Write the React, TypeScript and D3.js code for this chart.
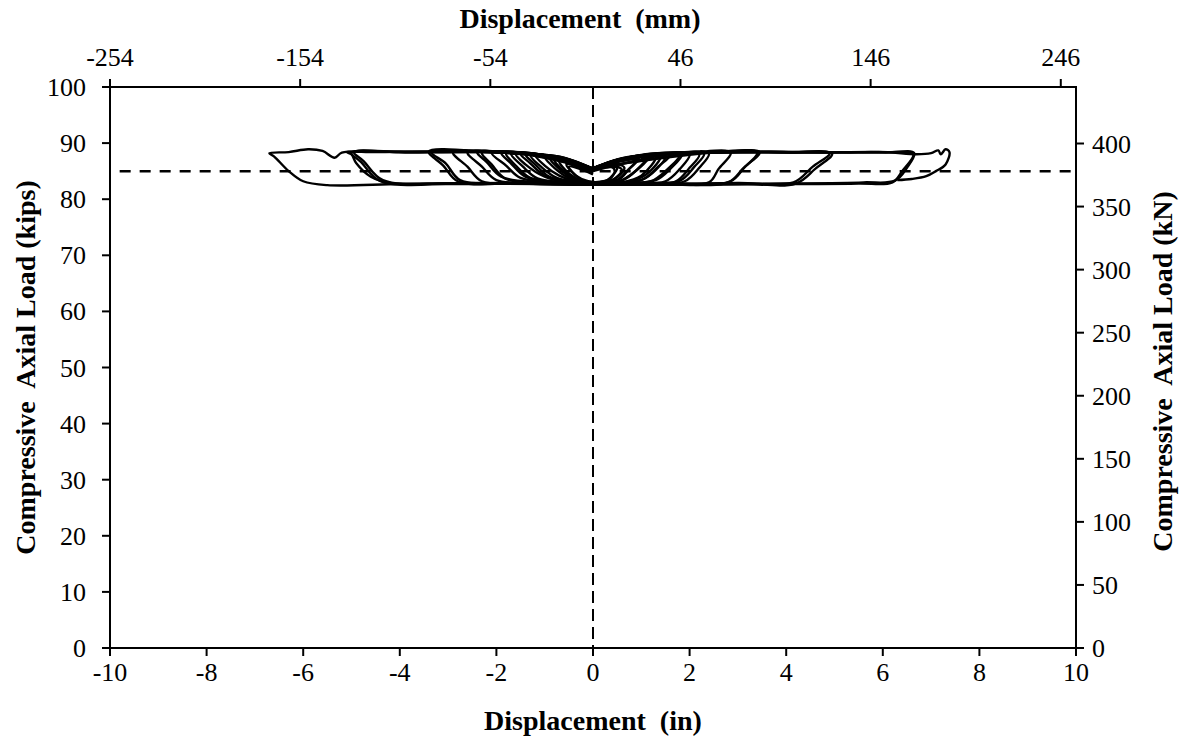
import React from "react";
import * as d3 from "d3";

// ---- data (displacement in inches, load in kips) ----
const xTicksIn = [-10, -8, -6, -4, -2, 0, 2, 4, 6, 8, 10];
const xTicksMm = [-254, -154, -54, 46, 146, 246];
const yTicksKips = [0, 10, 20, 30, 40, 50, 60, 70, 80, 90, 100];
const yTicksKn = [0, 50, 100, 150, 200, 250, 300, 350, 400];
const nominalLoad = 85;

const cycleA: [number, number][] = [[0, 84.4], [-0.2, 85.2], [-0.5, 85.8], [-0.3, 83.8], [-0.1, 83.0], [0.1, 83.0], [0.3, 83.4], [0.5, 85.6], [0.3, 85.7], [0.1, 85.7], [0, 85.0]];
const cycleA2: [number, number][] = [[0, 84.6], [-0.25, 85.6], [-0.55, 86.2], [-0.35, 84.2], [-0.1, 83.2], [0.15, 83.1], [0.35, 83.6], [0.45, 85.0], [0.4, 85.7], [0.0, 85.7]];
const cycleB: [number, number][] = [[0, 84.8], [-0.3, 85.8], [-0.7, 86.8], [-0.5, 84.6], [-0.2, 83.2], [0.1, 82.9], [0.4, 83.4], [0.6, 85.2], [0.4, 86.0], [0.1, 85.8], [0, 85.0]];
const cycleB2: [number, number][] = [[0, 84.9], [-0.4, 86.2], [-0.8, 87.0], [-0.6, 85.0], [-0.3, 83.4], [0.1, 83.0], [0.45, 83.6], [0.65, 85.6], [0.45, 86.3], [0.1, 85.9], [0, 85.1]];
const cycleC: [number, number][] = [[0, 85.0], [-0.3, 86.0], [-0.6, 86.8], [-0.9, 87.4], [-0.7, 85.4], [-0.4, 83.6], [-0.1, 82.9], [0.2, 82.9], [0.5, 83.4], [0.7, 85.0], [0.9, 87.0], [0.6, 86.8], [0.3, 86.2], [0, 85.2]];
const cycleC2: [number, number][] = [[0, 85.1], [-0.35, 86.3], [-0.7, 87.2], [-1.0, 87.6], [-0.8, 85.6], [-0.5, 83.8], [-0.15, 83.0], [0.25, 83.0], [0.55, 83.6], [0.75, 85.4], [0.95, 87.2], [0.65, 87.0], [0.3, 86.4], [0, 85.3]];
const cycleD: [number, number][] = [[0, 85.2], [-0.4, 86.4], [-0.8, 87.4], [-1.2, 87.9], [-1.0, 86.0], [-0.7, 84.2], [-0.3, 83.0], [0.1, 82.8], [0.5, 83.0], [0.8, 84.4], [1.1, 87.4], [0.8, 87.3], [0.4, 86.6], [0, 85.3]];
const cycleD2: [number, number][] = [[0, 85.2], [-0.45, 86.6], [-0.85, 87.5], [-1.3, 87.9], [-1.05, 85.6], [-0.75, 83.8], [-0.35, 83.1], [0.15, 82.9], [0.55, 83.2], [0.85, 84.8], [1.15, 87.5], [0.85, 87.4], [0.45, 86.7], [0, 85.3]];
const cycleE: [number, number][] = [[0, 85.2], [-0.5, 86.8], [-0.9, 87.6], [-1.4, 88.0], [-1.2, 86.2], [-0.9, 84.0], [-0.4, 83.0], [0.2, 82.8], [0.6, 83.0], [1.0, 84.2], [1.3, 87.6], [0.9, 87.5], [0.4, 86.8], [0, 85.4]];
const cycleE2: [number, number][] = [[0, 85.3], [-0.5, 87.0], [-1.0, 87.8], [-1.5, 88.1], [-1.3, 86.4], [-1.0, 84.2], [-0.5, 83.1], [0.2, 82.9], [0.7, 83.1], [1.1, 84.4], [1.4, 87.7], [1.0, 87.6], [0.5, 87.0], [0, 85.5]];
const cycleF: [number, number][] = [[0, 85.3], [-0.5, 87.0], [-1.0, 87.8], [-1.6, 88.1], [-1.4, 86.2], [-1.0, 84.0], [-0.5, 83.0], [0, 82.8], [0.5, 82.8], [1.0, 83.4], [1.3, 85.2], [1.5, 87.8], [1.0, 87.6], [0.5, 86.8], [0, 85.4]];
const cycleF2: [number, number][] = [[0, 85.3], [-0.55, 87.1], [-1.1, 87.9], [-1.7, 88.2], [-1.45, 85.8], [-1.15, 83.7], [-0.6, 83.0], [0, 82.8], [0.55, 82.9], [1.05, 83.6], [1.35, 85.8], [1.6, 87.9], [1.05, 87.7], [0.5, 86.9], [0, 85.4]];
const cycleG: [number, number][] = [[0, 85.4], [-0.6, 87.2], [-1.2, 88.0], [-1.8, 88.2], [-1.6, 86.0], [-1.3, 83.8], [-0.7, 83.0], [0, 82.7], [0.6, 82.8], [1.2, 83.2], [1.5, 85.0], [1.8, 88.0], [1.2, 87.8], [0.5, 87.0], [0, 85.4]];
const cycleG2: [number, number][] = [[0, 85.4], [-0.6, 87.3], [-1.3, 88.1], [-1.9, 88.3], [-1.7, 86.4], [-1.4, 84.0], [-0.8, 83.1], [0, 82.8], [0.7, 82.9], [1.3, 83.4], [1.6, 85.4], [1.85, 88.1], [1.3, 87.9], [0.6, 87.2], [0, 85.5]];
const cycleH: [number, number][] = [[0, 85.4], [-0.6, 87.4], [-1.2, 88.0], [-2.1, 88.3], [-1.8, 86.0], [-1.5, 83.8], [-0.8, 83.0], [0, 82.7], [0.8, 82.8], [1.5, 83.2], [1.8, 85.4], [2.0, 88.0], [1.4, 88.0], [0.6, 87.3], [0, 85.5]];
const cycleI: [number, number][] = [[0, 85.4], [-0.7, 87.5], [-1.5, 88.1], [-2.3, 88.3], [-2.1, 86.2], [-1.8, 83.6], [-1.0, 82.9], [0, 82.7], [1.0, 82.8], [1.7, 83.1], [2.0, 85.6], [2.2, 88.0], [1.5, 88.1], [0.7, 87.4], [0, 85.5]];
const cycleI2: [number, number][] = [[0, 85.5], [-0.7, 87.6], [-1.6, 88.2], [-2.4, 88.4], [-2.2, 86.6], [-1.9, 84.0], [-1.1, 83.0], [0, 82.8], [1.1, 82.9], [1.8, 83.3], [2.1, 85.8], [2.3, 88.1], [1.6, 88.2], [0.8, 87.5], [0, 85.5]];
const cycleJ: [number, number][] = [[0, 85.4], [-0.8, 87.6], [-1.6, 88.1], [-2.6, 88.4], [-2.3, 85.8], [-2.0, 83.4], [-1.2, 82.9], [0, 82.7], [1.2, 82.8], [1.9, 83.2], [2.2, 85.6], [2.4, 88.2], [1.6, 88.1], [0.7, 87.5], [0, 85.5]];
const cycleK: [number, number][] = [[0, 85.4], [-0.9, 87.7], [-1.9, 88.3], [-2.9, 88.4], [-2.6, 85.8], [-2.3, 83.2], [-1.4, 82.8], [0, 82.6], [1.4, 82.7], [2.4, 83.0], [2.6, 85.4], [2.85, 88.3], [2.0, 88.3], [0.9, 87.7], [0, 85.5]];
const cycleL: [number, number][] = [[0, 85.4], [-1.0, 87.9], [-2.0, 88.3], [-3.4, 88.5], [-3.1, 86.0], [-2.8, 83.2], [-1.6, 82.8], [0, 82.6], [1.5, 82.7], [2.8, 83.0], [3.1, 85.4], [3.4, 88.3], [2.4, 88.4], [1.0, 87.9], [0, 85.5]];
const cycleL2: [number, number][] = [[0, 85.5], [-1.1, 88.0], [-2.2, 88.4], [-3.35, 88.4], [-3.05, 86.4], [-2.75, 83.4], [-1.6, 82.9], [0, 82.7], [1.6, 82.8], [2.85, 83.2], [3.15, 85.8], [3.45, 88.4], [2.5, 88.3], [1.1, 88.0], [0, 85.5]];
const cycleM: [number, number][] = [[0, 85.4], [-1.2, 88.1], [-2.6, 88.4], [-3.8, 88.3], [-5.0, 88.3], [-4.8, 86.6], [-4.4, 83.2], [-3.0, 82.7], [-1.5, 82.8], [0, 82.6], [1.5, 82.6], [3.0, 82.8], [4.2, 82.8], [4.6, 85.4], [4.95, 88.1], [4.0, 88.4], [2.6, 88.3], [1.2, 87.9], [0, 85.5]];
const cycleM2: [number, number][] = [[0, 85.5], [-1.3, 88.2], [-2.7, 88.5], [-3.9, 88.4], [-4.95, 88.4], [-4.75, 86.8], [-4.35, 83.4], [-3.0, 82.8], [-1.5, 82.9], [0, 82.7], [1.5, 82.7], [3.0, 82.9], [4.15, 83.0], [4.55, 85.8], [4.9, 88.2], [4.0, 88.3], [2.6, 88.4], [1.2, 88.0], [0, 85.5]];
const cycleN: [number, number][] = [[0, 85.3], [-1.5, 88.1], [-3.0, 88.4], [-4.5, 88.5], [-5.2, 88.3], [-5.35, 87.4], [-5.6, 88.6], [-5.9, 88.9], [-6.3, 88.4], [-6.7, 88.2], [-6.6, 87.6], [-6.3, 85.0], [-6.0, 83.2], [-5.5, 82.5], [-4.0, 82.7], [-2.5, 82.8], [0, 82.6], [2.0, 82.6], [4.0, 82.7], [5.5, 82.8], [6.2, 83.0], [6.4, 85.0], [6.63, 88.0], [6.1, 88.4], [5.0, 88.3], [3.5, 88.4], [2.0, 88.1], [0, 85.4]];
const cycleN2: [number, number][] = [[0, 85.4], [-1.5, 88.2], [-3.0, 88.5], [-4.5, 88.4], [-5.1, 88.4], [-5.0, 88.0], [-4.9, 86.4], [-4.6, 84.0], [-4.2, 82.9], [-2.5, 82.9], [0, 82.7], [2.0, 82.7], [4.0, 82.8], [5.6, 83.0], [6.25, 83.3], [6.5, 85.6], [6.65, 88.2], [6.0, 88.3], [4.5, 88.4], [2.5, 88.3], [0, 85.5]];
const cycleFinal: [number, number][] = [[0, 85.0], [1.5, 87.9], [3.0, 88.4], [4.5, 88.3], [6.0, 88.4], [6.7, 88.0], [7.0, 88.2], [7.15, 88.7], [7.2, 88.0], [7.3, 88.9], [7.38, 88.4], [7.3, 86.2], [7.1, 85.0], [6.9, 84.1], [6.6, 83.6], [6.3, 83.4]];

const cycles = [cycleA, cycleA2, cycleB, cycleB2, cycleC, cycleC2, cycleD, cycleD2, cycleE, cycleE2, cycleF, cycleF2, cycleG, cycleG2, cycleH, cycleI, cycleI2, cycleJ, cycleK, cycleL, cycleL2, cycleM, cycleM2, cycleN, cycleN2, cycleFinal];

const W = 1183;
const H = 738;
const M = { left: 110, right: 1076, top: 87, bottom: 648 };
const FONT = "'Liberation Serif', 'Times New Roman', serif";

export default function App() {
  const x = d3.scaleLinear().domain([-10, 10]).range([M.left, M.right]);
  const xMm = d3.scaleLinear().domain([-254, 254]).range([M.left, M.right]);
  const y = d3.scaleLinear().domain([0, 100]).range([M.bottom, M.top]);
  const yKn = d3.scaleLinear().domain([0, 100 * 4.448]).range([M.bottom, M.top]);
  const line = d3.line<[number, number]>().x((d) => x(d[0])).y((d) => y(d[1])).curve(d3.curveCatmullRom.alpha(0.5));
  const tick = 8;
  const fs = 26;
  const tfs = 28;
  const midY = (M.top + M.bottom) / 2;

  return (
    <svg width={W} height={H} style={{ position: "absolute", left: 0, top: 0, background: "#fff" }} fontFamily={FONT}>
      {/* data */}
      <g fill="none" stroke="#000" strokeWidth={2.4} strokeLinejoin="round">
        {cycles.map((c, i) => (
          <path key={i} d={line(c) || ""} />
        ))}
      </g>
      {/* reference lines */}
      <line x1={x(-9.8)} x2={x(10)} y1={y(nominalLoad)} y2={y(nominalLoad)} stroke="#000" strokeWidth={2.5} strokeDasharray="11 9" />
      <line x1={x(0)} x2={x(0)} y1={M.top} y2={M.bottom} stroke="#000" strokeWidth={2} strokeDasharray="12 6" />
      {/* frame */}
      <rect x={M.left} y={M.top} width={M.right - M.left} height={M.bottom - M.top} fill="none" stroke="#000" strokeWidth={2} />
      {/* bottom axis */}
      {xTicksIn.map((t) => (
        <g key={"b" + t}>
          <line x1={x(t)} x2={x(t)} y1={M.bottom} y2={M.bottom + tick} stroke="#000" strokeWidth={2} />
          <text x={x(t)} y={M.bottom + 33} fontSize={fs} textAnchor="middle">{t}</text>
        </g>
      ))}
      {/* top axis */}
      {xTicksMm.map((t) => (
        <g key={"t" + t}>
          <line x1={xMm(t)} x2={xMm(t)} y1={M.top} y2={M.top - tick} stroke="#000" strokeWidth={2} />
          <text x={xMm(t)} y={M.top - 21} fontSize={fs} textAnchor="middle">{t}</text>
        </g>
      ))}
      {/* left axis */}
      {yTicksKips.map((t) => (
        <g key={"l" + t}>
          <line x1={M.left - tick} x2={M.left} y1={y(t)} y2={y(t)} stroke="#000" strokeWidth={2} />
          <text x={M.left - 24} y={y(t) + 9} fontSize={fs} textAnchor="end">{t}</text>
        </g>
      ))}
      {/* right axis */}
      {yTicksKn.map((t) => (
        <g key={"r" + t}>
          <line x1={M.right} x2={M.right + tick} y1={yKn(t)} y2={yKn(t)} stroke="#000" strokeWidth={2} />
          <text x={M.right + 16} y={yKn(t) + 9} fontSize={fs} textAnchor="start">{t}</text>
        </g>
      ))}
      {/* titles */}
      <text x={x(0) - 13} y={28} fontSize={tfs} fontWeight="bold" textAnchor="middle" style={{ whiteSpace: "pre" }}>Displacement  (mm)</text>
      <text x={x(0)} y={730} fontSize={tfs} fontWeight="bold" textAnchor="middle" style={{ whiteSpace: "pre" }}>Displacement  (in)</text>
      <text transform={`translate(35, ${midY}) rotate(-90)`} fontSize={tfs} fontWeight="bold" textAnchor="middle" style={{ whiteSpace: "pre" }}>Compressive  Axial Load (kips)</text>
      <text transform={`translate(1172, ${midY + 4}) rotate(-90)`} fontSize={tfs} fontWeight="bold" textAnchor="middle" style={{ whiteSpace: "pre" }}>Compressive  Axial Load (kN)</text>
    </svg>
  );
}
